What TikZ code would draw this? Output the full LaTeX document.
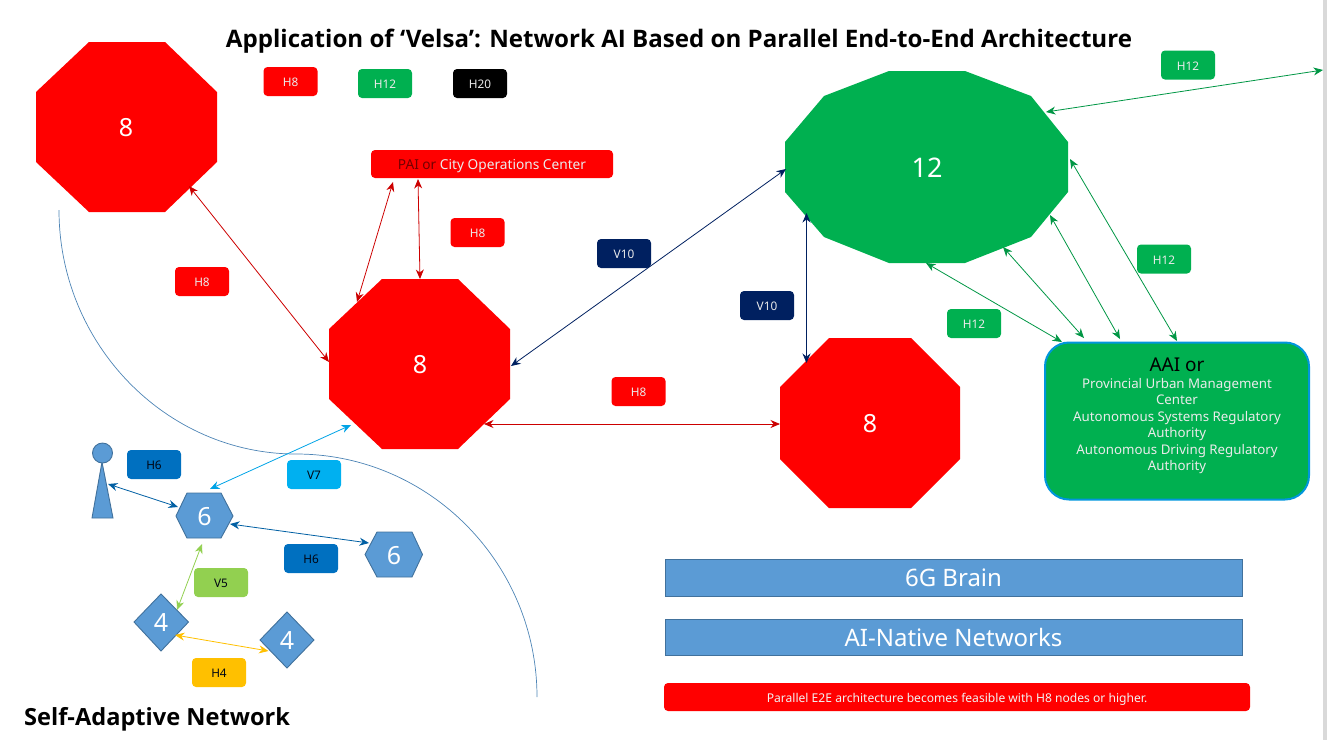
\documentclass[tikz,border=0pt]{standalone}
\usepackage{fontspec}
\setmainfont{Noto Sans}
\newfontfamily\headfont{Open Sans}[UprightFont=*,BoldFont=* Bold]
\usetikzlibrary{arrows.meta,calc}
\definecolor{cRed}{HTML}{FF0000}
\definecolor{cGreen}{HTML}{00B050}
\definecolor{cBlue}{HTML}{5B9BD5}
\definecolor{cBlueEdge}{HTML}{41719C}
\definecolor{cNavy}{HTML}{002060}
\definecolor{cMid}{HTML}{0070C0}
\definecolor{cSky}{HTML}{00B0F0}
\definecolor{cLime}{HTML}{92D050}
\definecolor{cAmber}{HTML}{FFC000}
\tikzset{
  x=1pt,y=-1pt,
  badge/.style={rounded corners=4pt,minimum width=54pt,minimum height=29pt,inner sep=0pt,text height=10pt,text depth=0pt,font=\fontsize{11.8}{13}\selectfont},
  wbadge/.style={badge,text=white!92!black},
  dbadge/.style={badge,text=black!80!cNavy},
  num/.style={inner sep=0pt,text=white,font=\fontsize{25}{28}\selectfont},
  blueshape/.style={fill=cBlue,draw=cBlueEdge,line width=0.9pt},
  barbox/.style={fill=cBlue,draw=cBlueEdge,line width=0.6pt,minimum width=577pt,inner sep=0pt,text=white,font=\fontsize{24}{26}\selectfont},
  headtext/.style={inner sep=0pt,font=\headfont\bfseries\fontsize{24.1}{28}\selectfont},
  link/.style={line width=0.8pt,{Stealth[length=9.5pt,width=8pt]}-{Stealth[length=9.5pt,width=8pt]}},
}
\begin{document}
\begin{tikzpicture}
\useasboundingbox (0,0) rectangle (1328,740);
\fill[black!15] (1323,0) rectangle (1326.5,740);
% title texts
\node[headtext] (title) at (679,41) {Application of ‘Velsa’: Network AI Based on Parallel End-to-End Architecture};
\node[headtext,anchor=west,font=\headfont\bfseries\fontsize{23.6}{28}\selectfont] (san) at (24,719) {Self-Adaptive Network};
% boundary curve
\draw[color=cBlue!85!black,line width=0.7pt] (59,210) .. controls (59,344) and (166,454) .. (296,454) .. controls (430,454) and (537,564) .. (537,697);
% octagons
\fill[cRed] (89,42)--(165,42)--(217,92)--(217,162)--(165,212)--(89,212)--(36,162)--(36,92)--cycle;
\node[num] (octA) at (126,128) {8};
\fill[cRed] (382,279)--(458,279)--(510,329)--(510,399)--(458,449)--(382,449)--(329,399)--(329,329)--cycle;
\node[num] (octB) at (420,365) {8};
\fill[cRed] (829,338)--(911,338)--(960,387)--(960,459)--(911,508)--(829,508)--(780,459)--(780,387)--cycle;
\node[num] (octC) at (870,424) {8};
% dodecagon
\fill[cGreen] (889,71)--(965,71)--(1031,96)--(1068,142)--(1068,192)--(1031,237)--(965,263)--(889,263)--(824,237)--(785,192)--(785,142)--(824,96)--cycle;
\node[num,font=\fontsize{27}{30}\selectfont] (dod) at (927,168) {12};
% AAI box
\node[fill=cGreen,draw=cSky!60!cMid,line width=2pt,rounded corners=24pt,minimum width=264pt,minimum height=157pt,inner sep=0pt] (aai) at (1177,421) {};
\node[inner sep=0pt,align=center,text=white!92!black,font=\fontsize{13.3}{16.5}\selectfont] (aaitext) at (1177,416)
 {{\color{black}\fontsize{19}{19}\selectfont AAI or}\\Provincial Urban Management\\Center\\Autonomous Systems Regulatory\\Authority\\Autonomous Driving Regulatory\\Authority};
% PAI box
\node[fill=cRed,rounded corners=4pt,minimum width=242pt,minimum height=28pt,inner sep=0pt,text height=11pt,text depth=0pt,text=white!92!black,font=\fontsize{13.7}{15}\selectfont] (pai) at (492,164) {{\color{black!55!red}PAI or} City Operations Center};
% small people and shapes
\fill[blueshape] (102,462)--(113,518)--(92,518)--cycle;
\node[circle,blueshape,minimum size=20pt,inner sep=0pt] (head) at (102.5,453) {};
\filldraw[blueshape] (187,493)--(221,493)--(233,516)--(221,538)--(187,538)--(176,516)--cycle;
\node[num] (hexA) at (204.5,517) {6};
\filldraw[blueshape] (377,532)--(412,532)--(422.5,554.5)--(412,577)--(377,577)--(365,554.5)--cycle;
\node[num] (hexB) at (394,555.5) {6};
\filldraw[blueshape] (161,594)--(188.5,622)--(161,651)--(134,622)--cycle;
\node[num] (diaA) at (161,623) {4};
\filldraw[blueshape] (287,612)--(314,640)--(287,668)--(260,640)--cycle;
\node[num] (diaB) at (287,641) {4};
% badges
\node[wbadge,fill=cRed] (b1) at (290.5,81.5) {H8};
\node[wbadge,fill=cGreen] (b2) at (385,83.5) {H12};
\node[wbadge,fill=black] (b3) at (480,83.5) {H20};
\node[wbadge,fill=cRed] (b4) at (477.5,232.5) {H8};
\node[wbadge,fill=cRed] (b5) at (202,281.5) {H8};
\node[wbadge,fill=cNavy] (b6) at (624,253.5) {V10};
\node[wbadge,fill=cNavy] (b7) at (767,305.5) {V10};
\node[wbadge,fill=cRed] (b8) at (638.5,391.5) {H8};
\node[wbadge,fill=cGreen] (b9) at (1188,65) {H12};
\node[wbadge,fill=cGreen] (b10) at (1164,259) {H12};
\node[wbadge,fill=cGreen] (b11) at (974,323.5) {H12};
\node[dbadge,fill=cMid] (b12) at (154,464.5) {H6};
\node[dbadge,fill=cSky] (b13) at (314,474.5) {V7};
\node[dbadge,fill=cMid] (b14) at (311,558.5) {H6};
\node[dbadge,fill=cLime] (b15) at (221,582.5) {V5};
\node[dbadge,fill=cAmber] (b16) at (219,672.5) {H4};
% bars
\node[barbox,minimum height=37pt] (brain) at (953.5,577.5) {6G Brain};
\node[barbox,minimum height=36pt] (native) at (953.5,637) {AI-Native Networks};
\node[fill=cRed,rounded corners=4pt,minimum width=586pt,minimum height=28pt,inner sep=0pt,text height=10pt,text depth=0pt,text=white!95!black,font=\fontsize{12.1}{13}\selectfont] (note) at (957,697) {Parallel E2E architecture becomes feasible with H8 nodes or higher.};
% connector end points
\coordinate (a1) at (189,186); \coordinate (a2) at (329,362);
\coordinate (p1) at (393,182); \coordinate (p2) at (357,302);
\coordinate (p3) at (418,179); \coordinate (p4) at (420,279);
\coordinate (c1) at (484,424); \coordinate (c2) at (780,424);
\coordinate (n1) at (511,366); \coordinate (n2) at (786,169);
\coordinate (n3) at (806.5,213); \coordinate (n4) at (806.5,363);
\coordinate (g1) at (1046,112); \coordinate (g2) at (1323,70);
\coordinate (g3) at (1070,159); \coordinate (g4) at (1177,341);
\coordinate (g5) at (1050,215); \coordinate (g6) at (1120,339);
\coordinate (g7) at (1003,247); \coordinate (g8) at (1084,338);
\coordinate (g9) at (926,263); \coordinate (g10) at (1062,342);
\coordinate (s1) at (108,484); \coordinate (s2) at (178,507);
\coordinate (s3) at (230,524); \coordinate (s4) at (369,543);
\coordinate (s5) at (351,425); \coordinate (s6) at (210,489);
\coordinate (s7) at (202,544); \coordinate (s8) at (177,610);
\coordinate (s9) at (175,635); \coordinate (s10) at (268.5,651);
% connectors
\draw[link,color=red!80!black] (a1) -- (a2);
\draw[link,color=red!80!black] (p1) -- (p2);
\draw[link,color=red!80!black] (p3) -- (p4);
\draw[link,color=red!80!black] (c1) -- (c2);
\draw[link,color=cNavy] (n1) -- (n2);
\draw[link,color=cNavy] (n3) -- (n4);
\draw[link,color=cGreen!85!black] (g1) -- (g2);
\draw[link,color=cGreen!85!black] (g3) -- (g4);
\draw[link,color=cGreen!85!black] (g5) -- (g6);
\draw[link,color=cGreen!85!black] (g7) -- (g8);
\draw[link,color=cGreen!85!black] (g9) -- (g10);
\draw[link,color=cMid!85!black] (s1) -- (s2);
\draw[link,color=cMid!85!black] (s3) -- (s4);
\draw[link,color=cSky!80!cMid] (s5) -- (s6);
\draw[link,color=cLime] (s7) -- (s8);
\draw[link,color=cAmber] (s9) -- (s10);
\end{tikzpicture}
\end{document}
